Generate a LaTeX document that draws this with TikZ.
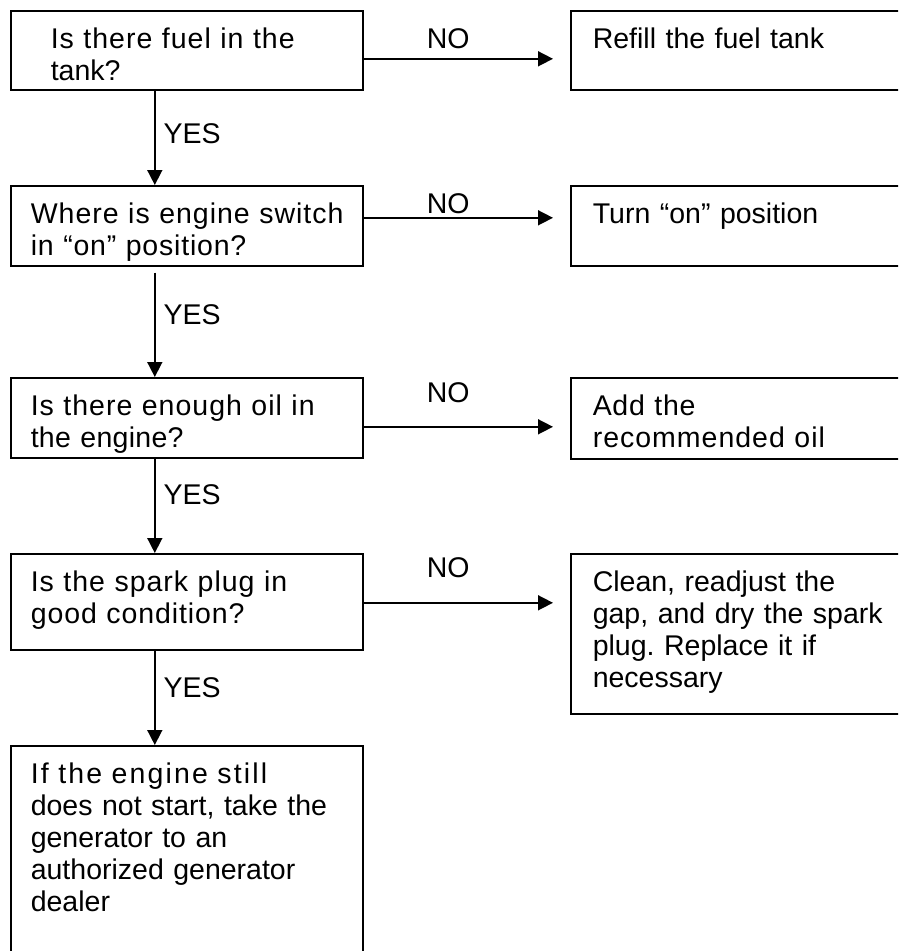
\documentclass[tikz,border=0pt]{standalone}
\usepackage{fontspec}
\setmainfont{Liberation Sans}
\usetikzlibrary{arrows.meta}
\newcommand\ls[2]{{\addfontfeature{LetterSpace=#1}#2}}
\frenchspacing

\begin{document}
\begin{tikzpicture}[x=1pt,y=-1pt,
  box/.style={draw, line width=1.6pt, anchor=north west, align=left,
    inner xsep=20pt, inner ysep=18pt, text width=312pt, text height=20pt,
    font=\fontsize{28.5}{32}\selectfont},
  rbox/.style={box, inner xsep=22pt, text width=306pt},
  arr/.style={line width=1.6pt, -{Triangle[length=15pt,width=15pt]}},
  lbl/.style={font=\fontsize{28.5}{32}\selectfont, inner sep=0pt}]

\useasboundingbox (0,0) rectangle (898,951);
\clip (0,0) rectangle (898,951);

% ── Questions (left column) ──────────────────────────────────────
\node[box, inner xsep=40pt, text width=272pt, text depth=23pt] (q1) at (10,10)
  {\ls{3.5}{Is there fuel in the}\\tank?};
\node[box, text depth=24pt] (q2) at (10,185)
  {\ls{3.5}{Where is engine switch}\\\ls{2.8}{in “on” position?}};
\node[box, text depth=24pt] (q3) at (10,377)
  {\ls{3.5}{Is there enough oil in}\\\ls{1}{the engine?}};
\node[box, text depth=40pt] (q4) at (10,553)
  {\ls{3.5}{Is the spark plug in}\\\ls{3.2}{good condition?}};
\node[box, text depth=164pt] (q5) at (10,745)
  {\ls{7.5}{If the engine still}\\does not start, take the\\generator to an\\
   authorized generator\\dealer};

% ── Actions (right column) ───────────────────────────────────────
\node[rbox, text depth=23pt] (r1) at (570,10) {Refill the fuel tank};
\node[rbox, text depth=24pt] (r2) at (570,185) {Turn “on” position};
\node[rbox, text depth=25pt] (r3) at (570,377)
  {\ls{2.5}{Add the}\\\ls{3.5}{recommended oil}};
\node[rbox, text depth=104pt] (r4) at (570,553)
  {Clean, readjust the\\gap, and dry the spark\\plug. Replace it if\\necessary};

% YES arrows
\foreach \a/\b/\p/\s in {q1/q2/0.46/0, q2/q3/0.44/6, q3/q4/0.38/0, q4/q5/0.39/0} {
  \draw[arr, shorten <=\s pt] ([xshift=-32pt]\a.south) -- ([xshift=-32pt]\b.north)
    node[lbl, pos=\p, right=8pt] {YES};
}

% NO arrows
\foreach \a/\b/\dy/\ly in {q1/r1/-8.5/20, q2/r2/8/14, q3/r3/-9/34, q4/r4/-1/35} {
  \draw[arr, shorten >=17pt] ([yshift=\dy pt]\a.east) -- ([yshift=\dy pt]\a.east -| \b.west)
    node[lbl, pos=0.41, yshift=\ly pt] {NO};
}

\end{tikzpicture}
\end{document}
